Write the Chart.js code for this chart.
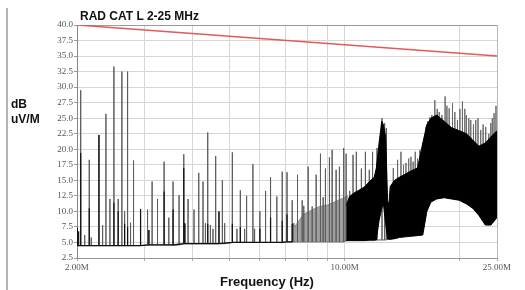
<!DOCTYPE html>
<html>
<head>
<meta charset="utf-8">
<script src="https://cdn.jsdelivr.net/npm/chart.js@4/dist/chart.umd.min.js"></script>
<style>
  html, body { margin: 0; padding: 0; background: #fff; }
  #wrap { position: relative; width: 525px; height: 290px; overflow: hidden; font-family: "Liberation Sans", Arial, sans-serif; }
  #chart { position: absolute; left: 0; top: 0; }
  .lbl { position: absolute; font-weight: bold; color: #111; white-space: nowrap; }
  #frame { position: absolute; left: 6px; top: 8px; width: 2px; height: 282px; background: #b4b4b4; }
</style>
</head>
<body>
<div id="wrap">
  <canvas id="chart" width="525" height="290"></canvas>
  <div id="frame"></div>
  <div class="lbl" style="left:80px; top:10px; font-size:12px; line-height:12px;">RAD CAT L 2-25 MHz</div>
  <div class="lbl" style="left:11px; top:97px; font-size:12px; line-height:15px;">dB<br>uV/M</div>
  <div class="lbl" style="left:220px; top:275px; font-size:13px; line-height:13px;">Frequency (Hz)</div>
</div>
<script>
// axis ticks (MHz / dB)
const gridFreqs = [2, 3, 4, 5, 6, 7, 8, 9, 10, 20, 25]
const labelFreqs = [2, 10, 25]
const levelTicks = [2.5, 5, 7.5, 10, 12.5, 15, 17.5, 20, 22.5, 25, 27.5, 30, 32.5, 35, 37.5, 40]

// limit line
const limitFreqs = [2, 25]
const limitLevels = [40, 35]

// noise floor, read in steps
const floorFreqs = [2, 3, 3.7, 5, 7, 10, 12]
const floorLevels = [4.5, 4.6, 4.8, 5.0, 5.1, 5.3, 5.4]

// single emissions (peaks)
const spikeFreqs = [2.045, 2.095, 2.153, 2.179, 2.282, 2.333, 2.380, 2.438, 2.497, 2.562, 2.620, 2.663, 2.711, 2.760, 2.810, 2.931, 3.057, 3.081, 3.142, 3.246,
  3.377, 3.474, 3.564, 3.695, 3.801, 3.900, 4.043, 4.159, 4.267, 4.329, 4.390, 4.461, 4.531, 4.605, 4.697, 4.794, 4.861, 5.090, 5.233, 5.341,
  5.480, 5.546, 5.760, 5.819, 6.007, 6.216, 6.405, 6.652, 6.871, 7.072, 7.296, 7.367, 7.532, 7.748, 7.822, 8.031, 8.227, 8.426, 8.647, 8.788,
  8.910, 9.127, 9.276, 9.501, 9.691, 9.944, 10.09, 10.31, 10.52, 10.73, 11.06, 11.33, 11.60, 11.83, 12.15, 12.52, 12.72, 12.85]
const spikeTops = [29.5, 6.2, 18.3, 5.8, 22.3, 7.8, 25.7, 12.0, 33.3, 12.0, 32.5, 10.0, 32.5, 8.2, 18.2, 10.4, 10.3, 7.0, 14.8, 12.0,
  18.0, 9.0, 14.8, 12.6, 19.2, 12.0, 10.3, 16.2, 14.8, 8.1, 22.7, 7.8, 7.2, 18.9, 10.0, 15.0, 8.1, 19.5, 7.2, 13.4,
  7.2, 12.5, 17.6, 7.2, 10.0, 13.3, 15.5, 12.4, 16.4, 16.3, 11.8, 8.1, 15.9, 11.8, 10.9, 17.2, 10.8, 15.9, 19.3, 12.3,
  16.9, 18.7, 19.9, 16.7, 17.2, 20.2, 19.3, 13.3, 19.1, 19.6, 16.9, 19.6, 16.7, 19.6, 20.2, 25.0, 24.2, 23.4]

// darker lower parts of the peaks
const coreFreqs = [2.005, 2.02, 2.045, 2.153, 2.282, 2.497, 2.562, 2.663, 2.711, 2.931, 3.081, 3.377, 3.564, 3.801, 3.830, 4.390, 4.697, 5.090, 5.341, 6.007, 6.405, 6.871, 7.072, 7.296]
const coreTops = [7.4, 6.8, 19.4, 10.5, 22.3, 11.4, 10.0, 8.0, 7.5, 10.4, 7.0, 13.2, 10.3, 17.0, 8.1, 8.0, 10.0, 8.0, 7.5, 7.2, 9.0, 8.5, 9.5, 8.0]

// grey clutter 7.4 - 10.2 MHz
const greyFreqs = [7.4, 7.8, 8.2, 8.6, 9.0, 9.4, 9.8, 10.2]
const greyTops = [7.5, 9.5, 10.2, 10.8, 11.0, 11.5, 12.0, 12.5]

// dense broadband band
const bandFreqs = [10.1, 10.3, 10.6, 10.9, 11.3, 11.6, 11.95, 12.1, 12.3, 12.5, 12.62, 12.8, 12.95, 13.05, 13.15, 13.5, 13.9, 14.4, 14.9, 15.5,
  16.0, 16.4, 16.8, 17.4, 18.2, 19.0, 19.9, 20.8, 21.6, 22.4, 23.3, 24.1, 25.0]
const bandTops = [11.0, 12.4, 13.0, 13.4, 14.0, 14.8, 15.5, 17.0, 21.0, 24.5, 24.0, 22.0, 11.8, 11.0, 14.0, 15.0, 15.5, 16.0, 16.5, 17.0,
  21.0, 24.0, 25.0, 25.5, 24.5, 23.5, 23.0, 22.5, 21.5, 20.5, 21.0, 22.0, 23.0]
const bandBottoms = [5.3, 5.3, 5.3, 5.3, 5.3, 5.4, 5.4, 5.4, 8.5, 10.5, 11.3, 8.0, 5.5, 5.5, 5.5, 5.6, 5.8, 5.9, 6.0, 6.1,
  6.2, 10.0, 11.5, 12.0, 12.2, 12.0, 11.8, 11.2, 10.5, 9.4, 7.8, 7.8, 9.0]

// peaks sticking out of the band
const bandSpikeFreqs = [13.4, 13.75, 14.03, 14.25, 14.46, 14.7, 14.9, 15.1, 15.29, 15.5, 15.72, 16.0, 16.3, 16.5, 16.7, 16.9, 17.2, 17.45, 17.66, 17.95,
  18.3, 18.5, 18.75, 19.13, 19.4, 19.71, 20.0, 20.31, 20.6, 20.8, 21.1, 21.35, 21.7, 22.0, 22.3, 22.67, 23.0, 23.36, 23.8, 24.08, 24.3, 24.56, 24.85]
const bandSpikeTops = [17.0, 18.3, 19.6, 17.5, 17.8, 18.5, 18.8, 18.0, 19.6, 18.5, 19.9, 21.0, 23.6, 24.5, 25.2, 25.5, 27.9, 26.5, 26.0, 25.5,
  28.5, 27.0, 26.6, 27.4, 26.0, 24.7, 26.5, 27.7, 26.5, 25.5, 25.0, 24.7, 24.0, 24.7, 25.0, 23.1, 24.0, 23.6, 22.5, 24.2, 25.0, 25.8, 27.0]

function floorAt(f) {
    let level = floorLevels[0]
    floorFreqs.forEach((ff, i) => { if (f >= ff) level = floorLevels[i] })
    return level
}

// vertical strokes: base -> top -> base
function spikePoints(freqs, tops, baseFn) {
    const pts = []
    freqs.forEach((f, i) => {
        const b = baseFn(f)
        pts.push({ x: f, y: b }, { x: f, y: tops[i] }, { x: f, y: b })
    })
    return pts
}

const trace = [{ x: 2, y: floorAt(2) }].concat(spikePoints(spikeFreqs, spikeTops, floorAt))
const cores = spikePoints(coreFreqs, coreTops, floorAt)
const bandSpikes = spikePoints(bandSpikeFreqs, bandSpikeTops, () => 14)

const pair = (xs, ys) => xs.map((x, i) => ({ x, y: ys[i] }))

const tickFont = { family: 'Liberation Serif', size: 9 }

new Chart('chart', {
    type: 'line',
    data: {
        datasets: [
            { data: pair(limitFreqs, limitLevels), borderColor: '#e05a5a', borderWidth: 1.5 },
            { data: pair(bandFreqs, bandTops), borderColor: '#000', backgroundColor: '#000', borderWidth: 1, fill: '+1' },
            { data: pair(bandFreqs, bandBottoms), borderColor: '#000', borderWidth: 1 },
            { data: bandSpikes, borderColor: '#6a6a6a', borderWidth: 1 },
            { data: cores, borderColor: '#111', borderWidth: 1.2 },
            { data: trace, borderColor: '#5c5c5c', borderWidth: 1 },
            { data: pair(greyFreqs, greyTops), borderColor: '#8a8a8a', backgroundColor: '#a0a0a0', borderWidth: 1, fill: { value: 5.2 } }
        ]
    },
    options: {
        responsive: false,
        animation: false,
        layout: { padding: { top: 25, right: 28, left: 0, bottom: 0 } },
        elements: { point: { radius: 0 }, line: { tension: 0 } },
        plugins: { legend: { display: false }, tooltip: { enabled: false } },
        scales: {
            x: {
                type: 'logarithmic',
                min: 2,
                max: 25,
                afterBuildTicks: (s) => { s.ticks = gridFreqs.map(v => ({ value: v })) },
                afterFit: (s) => { s.height = 32 },
                ticks: {
                    autoSkip: false,
                    maxRotation: 0,
                    padding: 1,
                    font: tickFont,
                    color: '#555',
                    callback: (v) => labelFreqs.includes(v) ? v.toFixed(2) + 'M' : ''
                },
                grid: {
                    color: (c) => c.tick && c.tick.value === 25 ? '#b8b8b8' : '#d6d6d6',
                    tickLength: 3,
                    tickColor: '#aaa'
                },
                border: { color: '#999' }
            },
            y: {
                min: 2.5,
                max: 40,
                afterBuildTicks: (s) => { s.ticks = levelTicks.map(v => ({ value: v })) },
                afterFit: (s) => { s.width = 77 },
                ticks: {
                    padding: 1,
                    font: tickFont,
                    color: '#555',
                    callback: (v) => v.toFixed(1)
                },
                grid: {
                    color: (c) => c.tick && c.tick.value === 40 ? '#999' : '#d6d6d6',
                    tickLength: 3,
                    tickColor: '#999'
                },
                border: { color: '#888' }
            }
        }
    }
})
</script>
</body>
</html>
